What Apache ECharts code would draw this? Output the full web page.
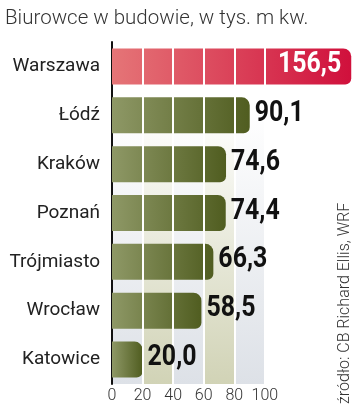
<!DOCTYPE html>
<html>
<head>
<meta charset="utf-8">
<script src="https://cdn.jsdelivr.net/npm/echarts@6/dist/echarts.min.js"></script>
<style>
  html, body { margin: 0; padding: 0; background: #fff; }
  #main { width: 355px; height: 407px; }
</style>
</head>
<body>
<div id="main"></div>
<script>
// dane: biurowce w budowie, tys. m kw.
var cities = ['Warszawa', 'Łódź', 'Kraków', 'Poznań', 'Trójmiasto', 'Wrocław', 'Katowice'];
var values = [156.5, 90.1, 74.6, 74.4, 66.3, 58.5, 20.0];
var tickLabels = [0, 20, 40, 60, 80, 100];

var G = echarts.graphic;
var greenFill = new G.LinearGradient(0, 0, 1, 0, [
  { offset: 0, color: '#8e9866' },
  { offset: 1, color: '#505d20' }
]);
var redFill = new G.LinearGradient(0, 0, 1, 0, [
  { offset: 0, color: '#e57577' },
  { offset: 1, color: '#d0103c' }
]);
function band(c) {
  return new G.LinearGradient(0, 0, 0, 1, [
    { offset: 0, color: '#ffffff' },
    { offset: 0.2, color: '#ffffff' },
    { offset: 1, color: c }
  ]);
}
var gray = band('#dde1e7');
var beige = band('#d1d3b6');
var none = 'rgba(0,0,0,0)';

function fmt(v) {
  return v.toFixed(1).replace('.', ',');
}

var barData = values.map(function (v, i) {
  return {
    value: v,
    itemStyle: { color: i === 0 ? redFill : greenFill }
  };
});

var labelData = values.map(function (v, i) {
  return [v, i];
});

// wartości: pogrubiony, zwężony krój (skalowanie w poziomie)
function renderValue(params, api) {
  var v = api.value(0);
  var p = api.coord([v, api.value(1)]);
  var inside = params.dataIndex === 0;
  return {
    type: 'text',
    x: inside ? p[0] - 10 : p[0] + 5,
    y: p[1] - 2,
    scaleX: 0.83,
    silent: true,
    style: {
      text: fmt(v),
      fill: inside ? '#fff' : '#111',
      font: 'bold 30px Roboto',
      textAlign: inside ? 'right' : 'left',
      textVerticalAlign: 'middle'
    }
  };
}

var myChart = echarts.init(document.getElementById('main'));
myChart.setOption({
  animation: false,
  title: {
    text: 'Biurowce w budowie, w tys. m kw.',
    left: 0,
    top: 3,
    textStyle: { fontFamily: 'Roboto', fontWeight: 300, fontSize: 20.5, color: '#333' }
  },
  grid: { left: 112, right: 3, top: 42, bottom: 23, containLabel: false },
  xAxis: {
    type: 'value',
    min: 0,
    max: 157,
    interval: 20,
    axisLine: { show: false },
    axisTick: { show: false },
    splitLine: { show: false },
    splitArea: {
      show: true,
      areaStyle: { color: [gray, beige, gray, beige, gray, none, none, none] }
    },
    axisLabel: {
      margin: 4,
      fontFamily: 'Roboto',
      fontWeight: 300,
      fontSize: 16,
      color: '#333',
      showMaxLabel: false,
      formatter: function (v) { return v <= 100 ? String(v) : ''; }
    }
  },
  yAxis: {
    type: 'category',
    data: cities,
    inverse: true,
    axisLine: { show: true, lineStyle: { color: '#111', width: 2 } },
    axisTick: { show: false },
    axisLabel: {
      margin: 12,
      fontFamily: 'Roboto',
      fontSize: 19,
      color: '#222'
    }
  },
  series: [
    {
      type: 'bar',
      data: barData,
      barWidth: 36,
      z: 2,
      itemStyle: { borderRadius: [0, 8, 6, 0] },
      markLine: {
        silent: true,
        symbol: 'none',
        label: { show: false },
        lineStyle: { color: '#fff', width: 2, type: 'solid' },
        data: tickLabels.slice(1).map(function (v) { return { xAxis: v }; })
      }
    },
    {
      type: 'custom',
      data: labelData,
      z: 10,
      silent: true,
      renderItem: renderValue
    }
  ],
  graphic: [
    {
      type: 'text',
      x: 345,
      y: 404,
      rotation: Math.PI / 2,
      style: {
        text: 'źródło: CB Richard Ellis, WRF',
        fontFamily: 'Roboto',
        fontWeight: 300,
        fontSize: 16,
        fill: '#333',
        textAlign: 'left',
        textVerticalAlign: 'middle'
      }
    }
  ]
});
</script>
</body>
</html>
